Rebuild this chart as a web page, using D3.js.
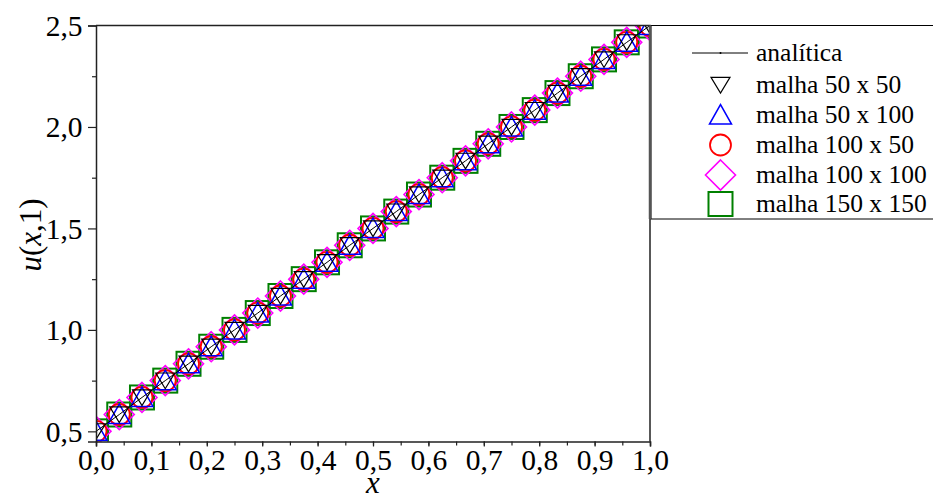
<!DOCTYPE html>
<html><head><meta charset="utf-8">
<script src="https://cdn.jsdelivr.net/npm/d3@7"></script>
<style>body{margin:0;background:#fff}svg{display:block}</style>
</head><body>
<svg id="c" width="933" height="495"></svg>
<script>
const xValues = [0.000,0.042,0.083,0.125,0.167,0.208,0.250,0.292,0.333,0.375,0.417,0.458,0.500,0.542,0.583,0.625,0.667,0.708,0.750,0.792,0.833,0.875,0.917,0.958,1.000];
const uAnalitica = [0.500,0.583,0.667,0.750,0.833,0.917,1.000,1.083,1.167,1.250,1.333,1.417,1.500,1.583,1.667,1.750,1.833,1.917,2.000,2.083,2.167,2.250,2.333,2.417,2.500];
const uMalha50x50 = [0.500,0.583,0.667,0.750,0.833,0.917,1.000,1.083,1.167,1.250,1.333,1.417,1.500,1.583,1.667,1.750,1.833,1.917,2.000,2.083,2.167,2.250,2.333,2.417,2.500];
const uMalha50x100 = [0.500,0.583,0.667,0.750,0.833,0.917,1.000,1.083,1.167,1.250,1.333,1.417,1.500,1.583,1.667,1.750,1.833,1.917,2.000,2.083,2.167,2.250,2.333,2.417,2.500];
const uMalha100x50 = [0.500,0.583,0.667,0.750,0.833,0.917,1.000,1.083,1.167,1.250,1.333,1.417,1.500,1.583,1.667,1.750,1.833,1.917,2.000,2.083,2.167,2.250,2.333,2.417,2.500];
const uMalha100x100 = [0.500,0.583,0.667,0.750,0.833,0.917,1.000,1.083,1.167,1.250,1.333,1.417,1.500,1.583,1.667,1.750,1.833,1.917,2.000,2.083,2.167,2.250,2.333,2.417,2.500];
const uMalha150x150 = [0.500,0.583,0.667,0.750,0.833,0.917,1.000,1.083,1.167,1.250,1.333,1.417,1.500,1.583,1.667,1.750,1.833,1.917,2.000,2.083,2.167,2.250,2.333,2.417,2.500];
const seriesNames = ["analítica","malha 50 x 50","malha 50 x 100","malha 100 x 50","malha 100 x 100","malha 150 x 150"];
const xTicks = [0,0.1,0.2,0.3,0.4,0.5,0.6,0.7,0.8,0.9,1.0];
const yTicks = [0.5,1.0,1.5,2.0,2.5];

const FONT = '"Liberation Serif"';
const svg = d3.select("#c");
const L = 96, R = 650, T = 25.5, B = 441.5;
const x = d3.scaleLinear().domain([0,1]).range([L,R]);
const y = d3.scaleLinear().domain([0.45,2.5]).range([B,T]);
const fmt = d => d3.format(".1f")(d).replace(".", ",");

svg.append("defs").append("clipPath").attr("id","clip")
  .append("rect").attr("x",L).attr("y",T).attr("width",R-L).attr("height",B-T);

function drawSym(g, type, cx, cy) {
  if (type === "down") {
    const s = 9.5;
    g.append("path").attr("d", `M${cx-s},${cy-s*0.8}L${cx+s},${cy-s*0.8}L${cx},${cy+s*0.85}Z`)
      .attr("fill","none").attr("stroke","#000").attr("stroke-width",1.2);
  } else if (type === "up") {
    const s = 11;
    g.append("path").attr("d", `M${cx-s},${cy+s*0.82}L${cx+s},${cy+s*0.82}L${cx},${cy-s*0.95}Z`)
      .attr("fill","none").attr("stroke","#0000ff").attr("stroke-width",1.5);
  } else if (type === "circle") {
    g.append("circle").attr("cx",cx).attr("cy",cy).attr("r",10.5)
      .attr("fill","none").attr("stroke","#ff0000").attr("stroke-width",1.8);
  } else if (type === "diamond") {
    const s = 15;
    g.append("path").attr("d", `M${cx},${cy-s}L${cx+s},${cy}L${cx},${cy+s}L${cx-s},${cy}Z`)
      .attr("fill","none").attr("stroke","#ff00ff").attr("stroke-width",1.6);
  } else if (type === "square") {
    const s = 12;
    g.append("rect").attr("x",cx-s).attr("y",cy-s).attr("width",2*s).attr("height",2*s)
      .attr("fill","none").attr("stroke","#008000").attr("stroke-width",2);
  }
}

const plot = svg.append("g").attr("clip-path","url(#clip)");
const markerSeries = [
  {vals: uMalha150x150, type:"square"},
  {vals: uMalha100x100, type:"diamond"},
  {vals: uMalha100x50, type:"circle"},
  {vals: uMalha50x100, type:"up"},
  {vals: uMalha50x50, type:"down"}
];
markerSeries.forEach(s => {
  const g = plot.append("g");
  s.vals.forEach((v,i) => drawSym(g, s.type, x(xValues[i]), y(v)));
});
plot.append("path")
  .attr("d", d3.line().x((d,i)=>x(xValues[i])).y(d=>y(d))(uAnalitica))
  .attr("fill","none").attr("stroke","#000").attr("stroke-width",1);

svg.append("path").attr("d",`M${L},${T}H${R}V${B}`).attr("fill","none").attr("stroke","#222").attr("stroke-width",1.5);

const xMinor = d3.range(0,1.0001,0.05);
const xAxis = svg.append("g").attr("transform",`translate(0,${B})`)
  .call(d3.axisBottom(x).tickValues(xTicks).tickFormat(fmt).tickSize(5));
svg.append("g").attr("transform",`translate(0,${B})`)
  .call(d3.axisBottom(x).tickValues(xMinor).tickFormat("").tickSize(4))
  .call(g=>g.select(".domain").remove());
const yAxis = svg.append("g").attr("transform",`translate(${L},0)`)
  .call(d3.axisLeft(y).tickValues(yTicks).tickFormat(fmt).tickSize(8));
svg.append("g").attr("transform",`translate(${L},0)`)
  .call(d3.axisLeft(y).tickValues([0.75,1.25,1.75,2.25]).tickFormat("").tickSize(4))
  .call(g=>g.select(".domain").remove());
svg.selectAll("g").attr("font-family",null).attr("font-size",null);
svg.selectAll(".domain").attr("stroke","#222").attr("stroke-width",1.5);
svg.selectAll(".tick line").attr("stroke","#222").attr("stroke-width",1.2);
[xAxis,yAxis].forEach(a=>a.selectAll("text").style("font-family",FONT).style("font-size","29.5px").attr("fill","#000"));
xAxis.selectAll("text").attr("y",28.5).attr("dy",null);
yAxis.selectAll("text").attr("x",-13.5).attr("dy","0.34em");

svg.append("text").attr("x",x(0.5)).attr("y",493).attr("text-anchor","middle")
  .style("font-family",FONT).style("font-size","31px").style("font-style","italic").text("x");
const yt = svg.append("text").attr("transform","translate(41,235) rotate(-90)").attr("text-anchor","middle")
  .style("font-family",FONT).style("font-size","31px");
yt.append("tspan").style("font-style","italic").text("u");
yt.append("tspan").text("(");
yt.append("tspan").style("font-style","italic").text("x");
yt.append("tspan").text(",1)");

const lg = svg.append("g");
lg.append("rect").attr("x",651).attr("y",T).attr("width",300).attr("height",219-T)
  .attr("fill","#fff").attr("stroke","#000").attr("stroke-width",1);
svg.append("line").attr("x1",R).attr("x2",R).attr("y1",T).attr("y2",219).attr("stroke","#555").attr("stroke-width",2.5);
const rowY = [53, 85, 115, 145, 175, 204];
const types = [null,"down","up","circle","diamond","square"];
seriesNames.forEach((n,i) => {
  if (i === 0) {
    lg.append("line").attr("x1",692).attr("x2",748).attr("y1",rowY[0]).attr("y2",rowY[0]).attr("stroke","#000").attr("stroke-width",1);
    lg.append("circle").attr("cx",720.5).attr("cy",rowY[0]).attr("r",1).attr("fill","#000");
  } else {
    drawSym(lg, types[i], 720.5, rowY[i]);
  }
  lg.append("text").attr("x",756).attr("y",rowY[i]).attr("dy","0.33em")
    .style("font-family",FONT).style("font-size","25.5px").attr("fill","#000").text(n);
});
</script>
</body></html>
